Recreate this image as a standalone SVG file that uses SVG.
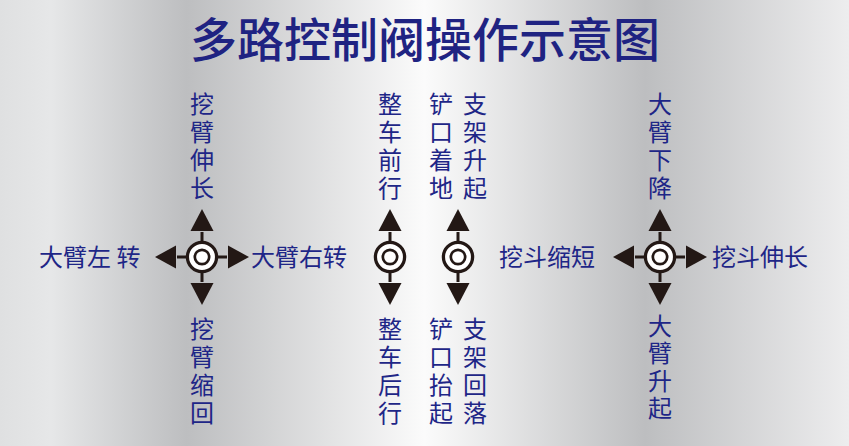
<svg xmlns="http://www.w3.org/2000/svg" width="849" height="446" viewBox="0 0 849 446">
<defs>
<linearGradient id="bg" x1="0" y1="0" x2="1" y2="0">
<stop offset="0" stop-color="#dfe0e1"/>
<stop offset="0.06" stop-color="#e6e7e8"/>
<stop offset="0.22" stop-color="#bdbec0"/>
<stop offset="0.5" stop-color="#fbfbfb"/>
<stop offset="0.76" stop-color="#bdbec0"/>
<stop offset="1" stop-color="#ededee"/>
</linearGradient>
<g id="knob">
<circle r="14.6" fill="#ffffff" stroke="#231815" stroke-width="3.3"/>
<circle r="7.2" fill="#ffffff" stroke="#231815" stroke-width="2.7"/>
</g>
<g id="arrUp">
<line x1="0" y1="-15" x2="0" y2="-25" stroke="#231815" stroke-width="3"/>
<polygon points="-11.5,-26 11.5,-26 0,-48" fill="#231815"/>
</g>
<g id="arrDown">
<line x1="0" y1="15" x2="0" y2="25" stroke="#231815" stroke-width="3"/>
<polygon points="-11.5,26 11.5,26 0,48" fill="#231815"/>
</g>
<g id="arrLeft">
<line x1="-15" y1="0" x2="-25" y2="0" stroke="#231815" stroke-width="3"/>
<polygon points="-26,-11.5 -26,11.5 -47,0" fill="#231815"/>
</g>
<g id="arrRight">
<line x1="15" y1="0" x2="25" y2="0" stroke="#231815" stroke-width="3"/>
<polygon points="26,-11.5 26,11.5 47,0" fill="#231815"/>
</g>
</defs>
<style>
.t{font-family:"Noto Sans CJK SC","Noto Sans",sans-serif;font-size:24px;fill:#1e2687;}
.v{writing-mode:vertical-rl;text-orientation:upright;letter-spacing:4px;}
.title{font-family:"Noto Sans CJK SC","Noto Sans",sans-serif;font-size:47px;font-weight:500;fill:#1f2382;text-anchor:middle;}
</style>
<rect x="0" y="0" width="849" height="446" fill="url(#bg)"/>
<text class="title" x="425" y="57">多路控制阀操作示意图</text>

<g id="connectors">
<use href="#arrUp" x="202" y="257"/>
<use href="#arrDown" x="202" y="257"/>
<use href="#arrLeft" x="202" y="257"/>
<use href="#arrRight" x="202" y="257"/>
<use href="#arrUp" x="390" y="257"/>
<use href="#arrDown" x="390" y="257"/>
<use href="#arrUp" x="458" y="257"/>
<use href="#arrDown" x="458" y="257"/>
<use href="#arrUp" x="660" y="257"/>
<use href="#arrDown" x="660" y="257"/>
<use href="#arrLeft" x="660" y="257"/>
<use href="#arrRight" x="660" y="257"/>
</g>

<g id="joystick1"><use href="#knob" x="202" y="257"/></g>
<g id="joystick2"><use href="#knob" x="390" y="257"/></g>
<g id="joystick3"><use href="#knob" x="458" y="257"/></g>
<g id="joystick4"><use href="#knob" x="660" y="257"/></g>

<g id="label-wabi-shenchang"><text class="t v" x="202" y="92">挖臂伸长</text></g>
<g id="label-wabi-suohui"><text class="t v" x="202" y="317">挖臂缩回</text></g>
<g id="label-dabi-zuozhuan"><text class="t" x="39" y="266">大臂左 转</text></g>
<g id="label-dabi-youzhuan"><text class="t" x="251" y="266">大臂右转</text></g>

<g id="label-zhengche-qianxing"><text class="t v" x="390" y="92">整车前行</text></g>
<g id="label-zhengche-houxing"><text class="t v" x="390" y="317">整车后行</text></g>
<g id="label-chankou-zhaodi"><text class="t v" x="441" y="92">铲口着地</text></g>
<g id="label-zhijia-shengqi"><text class="t v" x="475" y="92">支架升起</text></g>
<g id="label-chankou-taiqi"><text class="t v" x="441" y="317">铲口抬起</text></g>
<g id="label-zhijia-huiluo"><text class="t v" x="475" y="317">支架回落</text></g>

<g id="label-dabi-xiajiang"><text class="t v" x="660" y="92">大臂下降</text></g>
<g id="label-dabi-shengqi"><text class="t v" x="660" y="314" style="letter-spacing:3.3px">大臂升起</text></g>
<g id="label-wadou-suoduan"><text class="t" x="499" y="266">挖斗缩短</text></g>
<g id="label-wadou-shenchang"><text class="t" x="712" y="266">挖斗伸长</text></g>
</svg>
